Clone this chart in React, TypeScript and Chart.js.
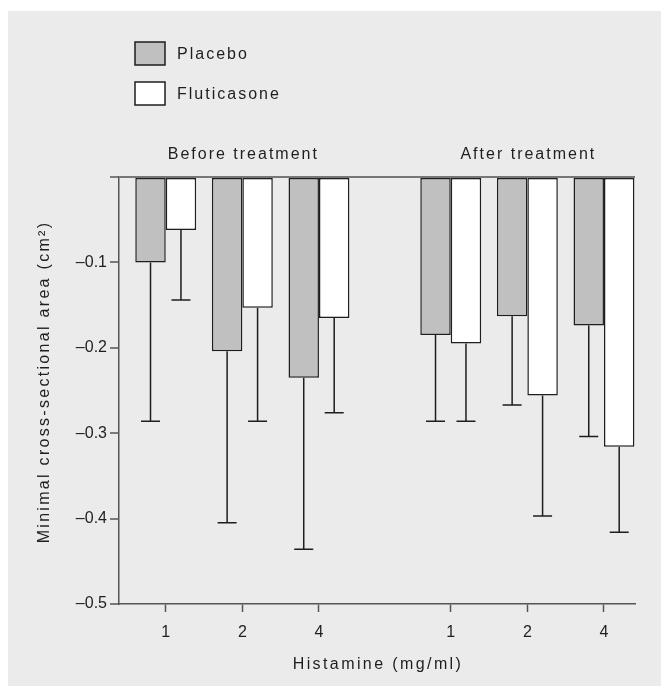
import React, { useEffect, useRef } from 'react';
import { Chart, registerables } from 'chart.js';

Chart.register(...registerables);

// ---- data ----
const GROUPS = ['Before treatment', 'After treatment'];
const DOSES = ['1', '2', '4'];
const SERIES = ['Placebo', 'Fluticasone'];
const PLACEBO_MEAN = [-0.1, -0.204, -0.235, -0.185, -0.163, -0.174];
const PLACEBO_SD = [0.186, 0.201, 0.201, 0.101, 0.104, 0.13];
const FLUTI_MEAN = [-0.062, -0.153, -0.165, -0.195, -0.256, -0.316];
const FLUTI_SD = [0.082, 0.133, 0.111, 0.091, 0.141, 0.1];
const Y_TICKS = [0, -0.1, -0.2, -0.3, -0.4, -0.5];
const X_TITLE = 'Histamine (mg/ml)';
const Y_TITLE = 'Minimal cross-sectional area (cm\u00B2)';

// ---- layout / style ----
const GROUP_GAP = 1.72;
const POSITIONS = GROUPS.flatMap((_, g) =>
  DOSES.map((_, d) => g * (DOSES.length - 1 + GROUP_GAP) + d)
);
const FILLS = ['#c0c0c0', '#ffffff'];
const FONT = '"Liberation Sans", Arial, Helvetica, sans-serif';
const INK = '#1e1e1e';

const extrasPlugin = {
  id: 'extras',
  afterDatasetsDraw(chart: any) {
    const { ctx } = chart;
    const y = chart.scales.y;
    const sdSets = [PLACEBO_SD, FLUTI_SD];
    chart.data.datasets.forEach((ds: any, di: number) => {
      const meta = chart.getDatasetMeta(di);
      meta.data.forEach((bar: any, i: number) => {
        const mean = ds.data[i].y;
        const end = y.getPixelForValue(mean - sdSets[di][i]);
        ctx.save();
        ctx.strokeStyle = INK;
        ctx.lineWidth = 1.5;
        ctx.beginPath();
        ctx.moveTo(bar.x, bar.y);
        ctx.lineTo(bar.x, end);
        ctx.moveTo(bar.x - 9.5, end);
        ctx.lineTo(bar.x + 9.5, end);
        ctx.stroke();
        ctx.restore();
      });
    });
  },
  afterDraw(chart: any) {
    const { ctx, chartArea } = chart;
    const x = chart.scales.x;
    ctx.save();
    (ctx as any).letterSpacing = '2px';
    ctx.fillStyle = INK;
    ctx.font = `16px ${FONT}`;
    ctx.textBaseline = 'middle';
    // legend
    SERIES.forEach((name, i) => {
      const by = 31 + i * 40;
      ctx.fillStyle = FILLS[i];
      ctx.fillRect(127, by, 30, 23);
      ctx.strokeStyle = INK;
      ctx.lineWidth = 1.5;
      ctx.strokeRect(127, by, 30, 23);
      ctx.fillStyle = INK;
      ctx.textAlign = 'left';
      ctx.fillText(name, 169, by + 13);
    });
    // group labels
    ctx.textAlign = 'center';
    GROUPS.forEach((g, gi) => {
      const mid = POSITIONS[gi * DOSES.length + 1];
      ctx.fillText(g, x.getPixelForValue(mid) + 1, chartArea.top - 22);
    });
    // axis titles
    (ctx as any).letterSpacing = '2.4px';
    ctx.fillText(X_TITLE, (chartArea.left + chartArea.right) / 2 + 1, 654);
    (ctx as any).letterSpacing = '2.3px';
    ctx.translate(37, 371);
    ctx.rotate(-Math.PI / 2);
    ctx.fillText(Y_TITLE, 0, 0);
    ctx.restore();
  },
};

export default function App() {
  const ref = useRef<HTMLCanvasElement | null>(null);
  useEffect(() => {
    if (!ref.current) return;
    const chart = new Chart(ref.current, {
      type: 'bar',
      data: {
        datasets: [PLACEBO_MEAN, FLUTI_MEAN].map((vals, si) => ({
          label: SERIES[si],
          data: vals.map((v, i) => ({ x: POSITIONS[i], y: v })),
          backgroundColor: FILLS[si],
          borderColor: INK,
          borderWidth: 1.5,
          borderSkipped: false,
          categoryPercentage: 0.795,
          barPercentage: 1,
        })),
      },
      options: {
        animation: false,
        responsive: false,
        layout: { padding: { top: 166, right: 26, left: 0, bottom: 0 } },
        plugins: { legend: { display: false }, tooltip: { enabled: false } },
        scales: {
          x: {
            type: 'linear',
            offset: false,
            min: -0.61,
            max: 6.125,
            afterBuildTicks: (s: any) => {
              s.ticks = POSITIONS.map((v) => ({ value: v }));
            },
            afterFit: (s: any) => {
              s.height = 82;
            },
            ticks: {
              autoSkip: false,
              maxRotation: 0,
              padding: 11,
              color: INK,
              font: { family: FONT, size: 16 },
              callback: (_v: any, i: number) => DOSES[i % DOSES.length],
            },
            grid: {
              display: true,
              offset: false,
              drawOnChartArea: false,
              drawTicks: true,
              tickLength: 8,
              tickColor: '#555',
              tickWidth: 1.5,
            },
            border: { display: true, color: '#555', width: 1.5 },
          },
          y: {
            type: 'linear',
            min: -0.5,
            max: 0,
            afterBuildTicks: (s: any) => {
              s.ticks = Y_TICKS.map((v) => ({ value: v }));
            },
            afterFit: (s: any) => {
              s.width = 111;
            },
            ticks: {
              padding: 3,
              color: INK,
              font: { family: FONT, size: 16 },
              callback: (v: any) =>
                Math.abs(v) < 1e-9 ? '' : '\u2013' + Math.abs(v).toFixed(1),
            },
            grid: {
              display: true,
              drawTicks: true,
              tickLength: 9,
              tickColor: '#555',
              tickWidth: 1.5,
              color: (c: any) =>
                c.tick && Math.abs(c.tick.value) < 1e-9 ? '#777' : 'rgba(0,0,0,0)',
              lineWidth: (c: any) =>
                c.tick && Math.abs(c.tick.value) < 1e-9 ? 2 : 0,
            },
            border: { display: true, color: '#555', width: 1.5 },
          },
        },
      },
      plugins: [extrasPlugin],
    });
    return () => chart.destroy();
  }, []);

  return (
    <div
      style={{
        position: 'absolute',
        left: 8,
        top: 11,
        width: 653,
        height: 675,
        background: '#ebebeb',
      }}
    >
      <canvas ref={ref} width={653} height={675} style={{ display: 'block' }} />
    </div>
  );
}
